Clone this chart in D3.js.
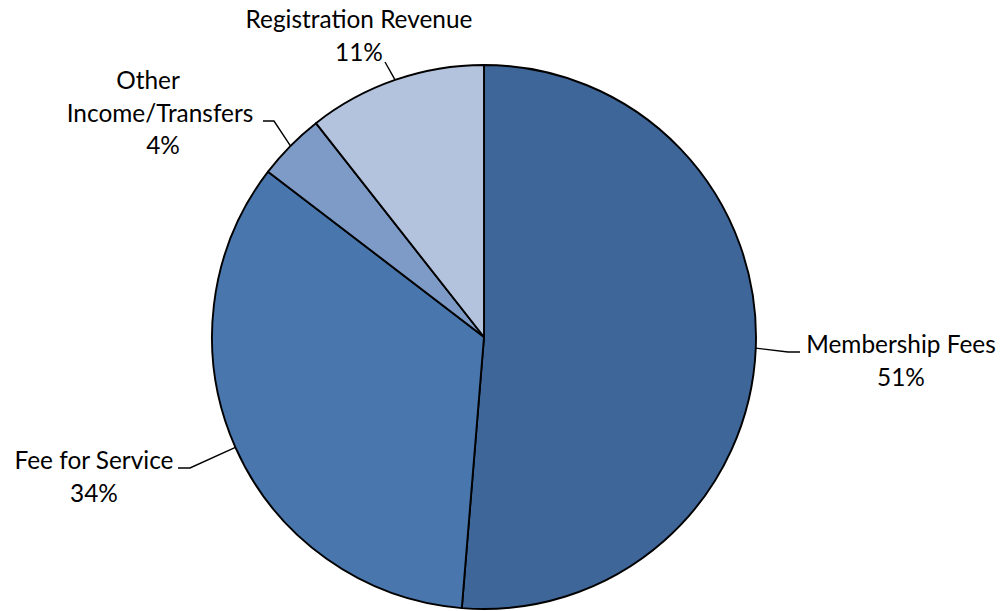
<!DOCTYPE html>
<html>
<head>
<meta charset="utf-8">
<script src="https://cdn.jsdelivr.net/npm/d3@7"></script>
<style>
  body { margin: 0; background: #fff; }
  svg text { font-family: Lato, "Open Sans", sans-serif; font-size: 24.4px; fill: #000; }
</style>
</head>
<body>
<svg id="chart" width="1005" height="611"></svg>
<script>
const categories = ["Membership Fees", "Fee for Service", "Other Income/Transfers", "Registration Revenue"];
const values = [51.3, 34.1, 4.0, 10.6];
const colors = ["#3e6698", "#4876ad", "#7e9bc7", "#b4c3dd"];

// label placement: text lines, anchor point, and where the leader line ends
const labelLayout = [
    { lines: ["Membership Fees"], x: 901, y: 353, elbow: [[788, 352], [800, 352]] },
    { lines: ["Fee for Service"], x: 94, y: 469, elbow: [[190, 468], [178, 468]] },
    { lines: ["Other", "Income/Transfers"], x: 160, y: 89, elbow: [[274, 121], [263, 121]] },
    { lines: ["Registration Revenue"], x: 359, y: 28, elbow: [[385, 62]] }
];

const cx = 484, cy = 337, radius = 272;
const svg = d3.select("#chart");
const g = svg.append("g").attr("transform", `translate(${cx},${cy})`);

const pie = d3.pie().sort(null).value(d => d);
const arcs = pie(values);
const arc = d3.arc().innerRadius(0).outerRadius(radius);

g.selectAll("path")
    .data(arcs)
    .enter()
    .append("path")
    .attr("d", arc)
    .attr("fill", (d, i) => colors[i])
    .attr("stroke", "#000")
    .attr("stroke-width", 1.9)
    .attr("stroke-linejoin", "round");

const total = d3.sum(values);

arcs.forEach((d, i) => {
    const mid = (d.startAngle + d.endAngle) / 2;
    const ex = cx + radius * Math.sin(mid);
    const ey = cy - radius * Math.cos(mid);
    const lay = labelLayout[i];
    const pts = [[ex, ey]].concat(lay.elbow);

    svg.append("path")
        .attr("d", d3.line()(pts))
        .attr("fill", "none")
        .attr("stroke", "#000")
        .attr("stroke-width", 1.4);

    const pct = Math.round(values[i] / total * 100) + "%";
    const lines = lay.lines.concat([pct]);
    lines.forEach((t, k) => {
        let x = lay.x;
        if (i === 2 && k === 0) x = 148;
        if (i === 2 && k === 2) x = 163;
        svg.append("text")
            .attr("x", x)
            .attr("y", lay.y + k * 32.5)
            .attr("text-anchor", "middle")
            .text(t);
    });
});
</script>
</body>
</html>
